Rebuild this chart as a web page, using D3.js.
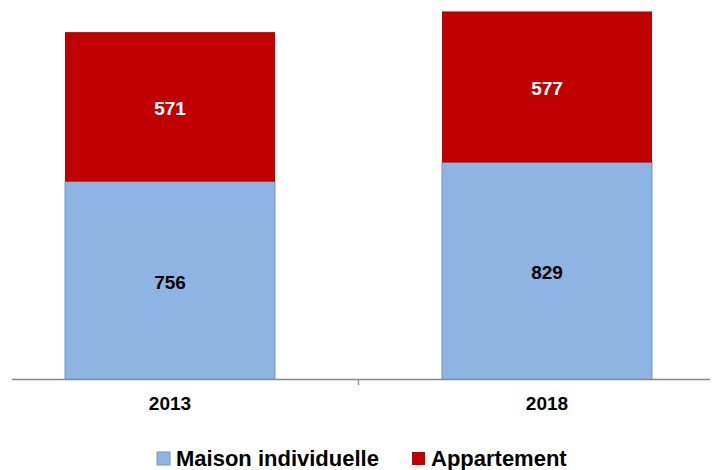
<!DOCTYPE html>
<html>
<head>
<meta charset="utf-8">
<script src="https://cdn.jsdelivr.net/npm/d3@7"></script>
<style>
  body { margin: 0; background: #fff; }
  text { font-family: "Liberation Sans", Arial, sans-serif; font-weight: bold; }
</style>
</head>
<body>
<div id="chart"></div>
<script>
const years = ["2013", "2018"];
const seriesNames = ["Maison individuelle", "Appartement"];
const maison = [756, 829];
const appartement = [571, 577];
const colors = ["#8EB4E3", "#C00000"];

const W = 716, H = 470;
const svg = d3.select("#chart").append("svg")
    .attr("width", W)
    .attr("height", H);

const rows = years.map((y, i) => ({ year: y, "Maison individuelle": maison[i], "Appartement": appartement[i] }));
const stack = d3.stack().keys(seriesNames);
const layers = stack(rows);

const x = d3.scaleBand()
    .domain(years)
    .range([-18.5, 735.5])
    .paddingInner(0.443)
    .paddingOuter(0.2215);

const y = d3.scaleLinear()
    .domain([0, 1400])
    .range([379.5, 13]);

const color = d3.scaleOrdinal().domain(seriesNames).range(colors);

// bars
const layer = svg.selectAll("g.layer")
    .data(layers)
    .join("g")
    .attr("class", "layer")
    .attr("fill", d => color(d.key));

layer.selectAll("rect")
    .data(d => d.map(v => Object.assign(v, { key: d.key })))
    .join("rect")
    .attr("x", d => x(d.data.year))
    .attr("y", d => y(d[1]))
    .attr("width", x.bandwidth())
    .attr("height", d => y(d[0]) - y(d[1]))
    .attr("stroke", d => d.key === "Maison individuelle" ? "#6f96cc" : "none")
    .attr("stroke-width", 1);

// value labels
layer.selectAll("text")
    .data(d => d)
    .join("text")
    .attr("x", d => x(d.data.year) + x.bandwidth() / 2)
    .attr("y", d => (y(d[0]) + y(d[1])) / 2 + 8)
    .attr("text-anchor", "middle")
    .attr("font-size", 19)
    .attr("fill", d => d.key === "Appartement" ? "#fff" : "#000")
    .text(d => d[1] - d[0]);

// axis
svg.append("line")
    .attr("x1", 12).attr("x2", 710)
    .attr("y1", 379.5).attr("y2", 379.5)
    .attr("stroke", "#868686")
    .attr("stroke-width", 1.5);

svg.append("line")
    .attr("x1", 358.5).attr("x2", 358.5)
    .attr("y1", 379.5).attr("y2", 385)
    .attr("stroke", "#999")
    .attr("stroke-width", 1.5);

svg.selectAll("text.cat")
    .data(years)
    .join("text")
    .attr("class", "cat")
    .attr("x", d => x(d) + x.bandwidth() / 2)
    .attr("y", 410)
    .attr("text-anchor", "middle")
    .attr("font-size", 19)
    .attr("fill", "#000")
    .text(d => d);

// legend
const legendPos = [157, 412];
const legend = svg.selectAll("g.legend")
    .data(seriesNames)
    .join("g")
    .attr("class", "legend")
    .attr("transform", (d, i) => `translate(${legendPos[i]}, 466)`);

legend.append("rect")
    .attr("x", 0)
    .attr("y", -14)
    .attr("width", 13)
    .attr("height", 13)
    .attr("fill", d => color(d))
    .attr("stroke", d => d === "Maison individuelle" ? "#6f96cc" : "none");

legend.append("text")
    .attr("x", 19)
    .attr("y", 0)
    .attr("font-size", 22)
    .attr("fill", "#000")
    .text(d => d);
</script>
</body>
</html>
